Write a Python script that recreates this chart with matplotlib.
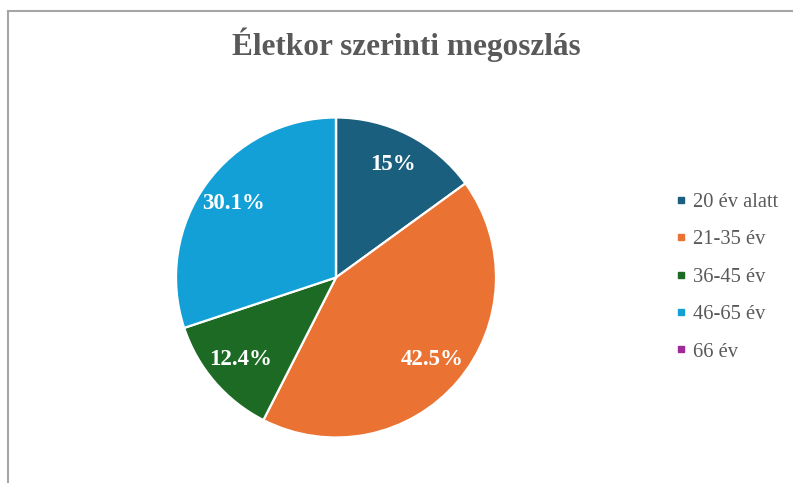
import matplotlib.pyplot as plt
from matplotlib.lines import Line2D

categories = ['20 év alatt', '21-35 év', '36-45 év', '46-65 év', '66 év']
values = [15.0, 42.5, 12.4, 30.1, 0.0]
colors = ['#1B5F7F', '#EA7333', '#1D6A25', '#13A0D7', '#A0299A']

plt.rcParams['font.family'] = ['Liberation Serif', 'DejaVu Serif']

W, H = 793, 483
fig = plt.figure(figsize=(W / 100, H / 100), dpi=100)

# pie centred at (336, 277) px, radius ~160 px
cx, cy, r = 336, 277.5, 160
ax = fig.add_axes([(cx - r) / W, (H - cy - r) / H, 2 * r / W, 2 * r / H])


def pct(p):
    if p < 0.05:
        return ''
    return f'{round(p, 1):g}%'


wedges, texts, autotexts = ax.pie(
    values, colors=colors, startangle=90, counterclock=False,
    autopct=pct, pctdistance=0.79, radius=1,
    wedgeprops=dict(edgecolor='white', linewidth=1.6))
for t in autotexts:
    t.set_color('white')
    t.set_fontweight('bold')
    t.set_fontsize(16.5)
ax.set_xlim(-1, 1)
ax.set_ylim(-1, 1)
ax.set_aspect('equal')
ax.axis('off')

fig.text(406 / W, 1 - 45 / H, 'Életkor szerinti megoszlás', ha='center', va='center',
         fontsize=22.5, fontweight='bold', color='#595959')

handles = [Line2D([], [], marker='s', linestyle='', markersize=5,
                  markerfacecolor=c, markeredgecolor=c) for c in colors]
fig.legend(handles, categories, loc='center left', bbox_to_anchor=(666 / W, 1 - 277 / H),
           frameon=False, fontsize=14.8, labelcolor='#595959', handlelength=0.5,
           handletextpad=0.3, labelspacing=0.88, borderpad=0)

# outer frame (left and top edges visible)
fig.add_artist(Line2D([7.5 / W, 7.5 / W], [0, 1 - 10.5 / H], transform=fig.transFigure,
                      color='#A6A6A6', linewidth=1.5))
fig.add_artist(Line2D([7.5 / W, 1], [1 - 10.5 / H, 1 - 10.5 / H], transform=fig.transFigure,
                      color='#A6A6A6', linewidth=1.5))

fig.savefig('out.png', dpi=100)
